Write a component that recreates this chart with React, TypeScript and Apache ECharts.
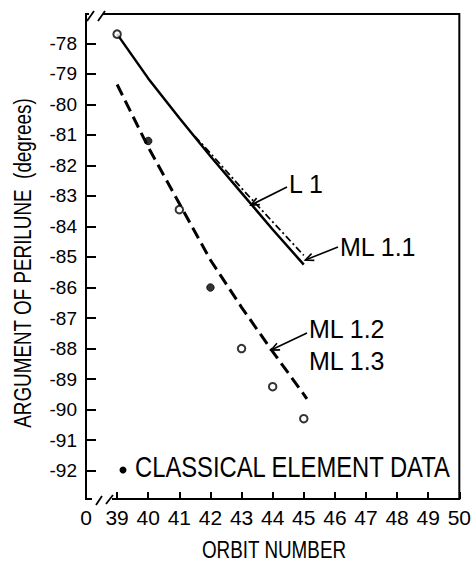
import React, { useEffect, useRef } from "react";
import * as echarts from "echarts";

// ---- data ----
const classicalOrbits = [39, 40, 41, 42, 43, 44, 45];
const classicalValues = [-77.7, -81.2, -83.45, -86.0, -88.0, -89.25, -90.3];

const l1Orbits = [39, 40, 41, 42, 43, 44, 45];
const l1Values = [-77.7, -79.15, -80.45, -81.7, -82.9, -84.1, -85.25];

const ml11Orbits = [41.5, 42, 43, 44, 45];
const ml11Values = [-81.05, -81.6, -82.75, -83.85, -84.95];

const ml12Orbits = [39, 40, 41, 42, 43, 44, 45, 45.1];
const ml12Values = [-79.35, -81.4, -83.25, -85.1, -86.65, -88.1, -89.5, -89.65];

const xTickValues = [38, 39, 40, 41, 42, 43, 44, 45, 46, 47, 48, 49, 50];
const xTickLabels = ["0", "39", "40", "41", "42", "43", "44", "45", "46", "47", "48", "49", "50"];

const lineLabels = ["L 1", "ML 1.1", "ML 1.2", "ML 1.3"];
const legendText = "CLASSICAL ELEMENT DATA";
const xTitle = "ORBIT NUMBER";
const yTitle = "ARGUMENT OF PERILUNE  (degrees)";

// ---- layout / style ----
const W = 474;
const H = 563;
const GL = 86;
const GR = 14;
const GT = 14;
const GB = 64;
const X_MIN = 38;
const X_MAX = 50;
const Y_MIN = -92.93;
const Y_MAX = -77.04;
const FILLED_ORBITS = [40, 42];
const REG = "'Liberation Sans', Arial, Helvetica, sans-serif";
const NARROW_SCALE = 0.82;

function arrow(tip: number[], tail: number[]) {
  const dx = tail[0] - tip[0];
  const dy = tail[1] - tip[1];
  const len = Math.sqrt(dx * dx + dy * dy) || 1;
  const ux = dx / len;
  const uy = dy / len;
  const a = (24 * Math.PI) / 180;
  const hl = 9;
  const rot = (ang: number) => [
    tip[0] + hl * (ux * Math.cos(ang) - uy * Math.sin(ang)),
    tip[1] + hl * (ux * Math.sin(ang) + uy * Math.cos(ang)),
  ];
  return [
    {
      type: "line",
      z: 50,
      shape: { x1: tail[0], y1: tail[1], x2: tip[0], y2: tip[1] },
      style: { stroke: "#000", lineWidth: 1.6 },
    },
    {
      type: "polyline",
      z: 50,
      shape: { points: [rot(a), tip, rot(-a)] },
      style: { stroke: "#000", lineWidth: 1.6, fill: null },
    },
  ];
}

function label(text: string, x: number, y: number, size: number, align: string, extra: any = {}) {
  return {
    type: "text",
    z: 50,
    x,
    y,
    ...extra,
    style: {
      text,
      fill: "#000",
      font: `${size}px ${REG}`,
      align,
      verticalAlign: "middle",
      textAlign: align,
      textVerticalAlign: "middle",
    },
  };
}

export default function App() {
  const ref = useRef<HTMLDivElement>(null);

  useEffect(() => {
    if (!ref.current) return;
    const chart = echarts.init(ref.current, undefined, { renderer: "svg" });

    const classicalData = classicalOrbits.map((o, i) => {
      const filled = FILLED_ORBITS.indexOf(o) >= 0;
      return {
        value: [o, classicalValues[i]],
        itemStyle: filled
          ? { color: "#000", borderColor: "#000", borderWidth: 1 }
          : { color: "#fff", borderColor: "#000", borderWidth: 2 },
      };
    });

    const option: any = {
      animation: false,
      backgroundColor: "#fff",
      grid: {
        left: GL,
        right: GR,
        top: GT,
        bottom: GB,
        show: true,
        borderColor: "#000",
        borderWidth: 2,
        backgroundColor: "transparent",
      },
      xAxis: {
        type: "value",
        min: X_MIN,
        max: X_MAX,
        interval: 1,
        axisLine: { show: false },
        splitLine: { show: false },
        axisTick: { show: true, inside: true, length: 7, lineStyle: { color: "#000", width: 2 } },
        axisLabel: {
          color: "#000",
          fontFamily: REG,
          fontSize: 21,
          margin: 8,
          formatter: (v: number) => {
            const idx = xTickValues.indexOf(v);
            return idx >= 0 ? xTickLabels[idx] : "";
          },
        },
      },
      yAxis: {
        type: "value",
        min: Y_MIN,
        max: Y_MAX,
        minInterval: 1,
        maxInterval: 1,
        axisLine: { show: false },
        splitLine: { show: false },
        axisTick: { show: true, inside: true, length: 10, lineStyle: { color: "#000", width: 2 } },
        axisLabel: {
          color: "#000",
          fontFamily: REG,
          fontSize: 19,
          margin: 9,
          showMinLabel: false,
          showMaxLabel: false,
          formatter: (v: number) => (Math.abs(v - Math.round(v)) < 1e-6 ? String(Math.round(v)) : ""),
        },
      },
      series: [
        {
          type: "line",
          name: lineLabels[0],
          data: l1Orbits.map((o, i) => [o, l1Values[i]]),
          showSymbol: false,
          symbol: "none",
          lineStyle: { color: "#000", width: 2.5 },
          z: 3,
        },
        {
          type: "line",
          name: lineLabels[1],
          data: ml11Orbits.map((o, i) => [o, ml11Values[i]]),
          showSymbol: false,
          symbol: "none",
          lineStyle: { color: "#000", width: 1.8, type: [7, 3, 2, 3] },
          z: 3,
        },
        {
          type: "line",
          name: lineLabels[2],
          data: ml12Orbits.map((o, i) => [o, ml12Values[i]]),
          showSymbol: false,
          symbol: "none",
          lineStyle: { color: "#000", width: 3, type: [12, 6] },
          z: 3,
        },
        {
          type: "scatter",
          name: legendText,
          data: classicalData,
          symbol: "circle",
          symbolSize: 7.5,
          z: 5,
        },
      ],
    };
    chart.setOption(option);

    const px = (p: number[]) => chart.convertToPixel({ gridIndex: 0 }, p) as number[];
    const gb = H - GB;
    const gr = W - GR;

    const tipL1 = px([43.3, -83.3]);
    const tipML11 = px([45.05, -85.1]);
    const tipML12 = px([43.95, -88.05]);

    const graphics: any[] = [
      // axis breaks (top)
      { type: "rect", z: 40, shape: { x: GL + 3, y: GT - 3, width: 14, height: 6 }, style: { fill: "#fff" } },
      { type: "line", z: 41, shape: { x1: GL + 1, y1: GT + 7, x2: GL + 8, y2: GT - 3 }, style: { stroke: "#000", lineWidth: 1.8 } },
      { type: "line", z: 41, shape: { x1: GL + 12, y1: GT + 7, x2: GL + 19, y2: GT - 3 }, style: { stroke: "#000", lineWidth: 1.8 } },
      // axis breaks (bottom)
      { type: "rect", z: 40, shape: { x: GL + 6, y: gb - 3, width: 20, height: 6 }, style: { fill: "#fff" } },
      { type: "line", z: 41, shape: { x1: GL + 10, y1: gb + 6, x2: GL + 16, y2: gb - 3 }, style: { stroke: "#000", lineWidth: 1.8 } },
      { type: "line", z: 41, shape: { x1: GL + 20, y1: gb + 5, x2: GL + 27, y2: gb - 4 }, style: { stroke: "#000", lineWidth: 1.8 } },
      // annotations
      ...arrow(tipL1, [287, 187]),
      label(lineLabels[0], 289, 184, 25, "left"),
      ...arrow(tipML11, [338, 247]),
      label(lineLabels[1], 340, 247, 25, "left"),
      ...arrow(tipML12, [307, 333]),
      label(lineLabels[2], 309, 329, 25, "left"),
      label(lineLabels[3], 309, 361, 25, "left"),
      // legend
      { type: "circle", z: 50, shape: { cx: 123, cy: 470, r: 3.5 }, style: { fill: "#000" } },
      label(legendText, 135, 467, 29, "left", { scaleX: NARROW_SCALE }),
      // axis titles
      label(xTitle, (GL + gr) / 2 + 1, 550, 23, "center", { scaleX: NARROW_SCALE }),
      label(yTitle, 23, 263, 23, "center", { rotation: Math.PI / 2, scaleX: NARROW_SCALE }),
    ];
    chart.setOption({ graphic: graphics });

    return () => chart.dispose();
  }, []);

  return <div ref={ref} style={{ position: "absolute", left: 0, top: 0, width: W, height: H }} />;
}
